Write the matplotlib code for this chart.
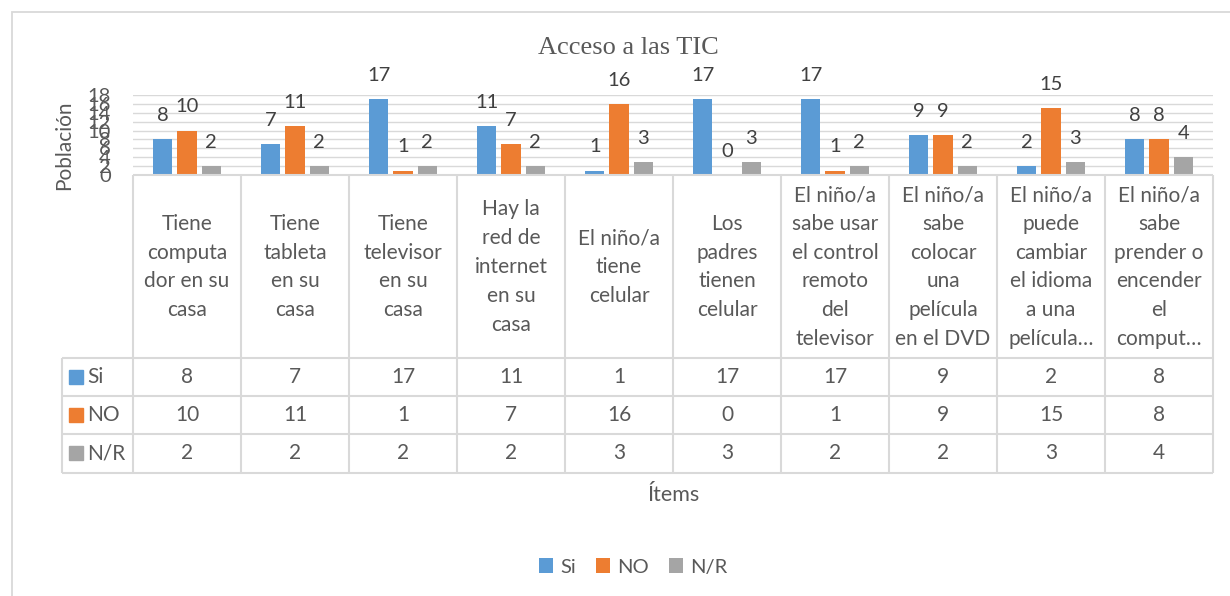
import matplotlib
matplotlib.use("Agg")
import matplotlib.pyplot as plt
from matplotlib.patches import Rectangle, Patch
import numpy as np

categories = [
    "Tiene\ncomputa\ndor en su\ncasa",
    "Tiene\ntableta\nen su\ncasa",
    "Tiene\ntelevisor\nen su\ncasa",
    "Hay la\nred de\ninternet\nen su\ncasa",
    "El niño/a\ntiene\ncelular",
    "Los\npadres\ntienen\ncelular",
    "El niño/a\nsabe usar\nel control\nremoto\ndel\ntelevisor",
    "El niño/a\nsabe\ncolocar\nuna\npelícula\nen el DVD",
    "El niño/a\npuede\ncambiar\nel idioma\na una\npelícula…",
    "El niño/a\nsabe\nprender o\nencender\nel\ncomput…",
]
series_names = ["Si", "NO", "N/R"]
si = [8, 7, 17, 11, 1, 17, 17, 9, 2, 8]
no = [10, 11, 1, 7, 16, 0, 1, 9, 15, 8]
nr = [2, 2, 2, 2, 3, 3, 2, 2, 3, 4]
colors = ["#5B9BD5", "#ED7D31", "#A5A5A5"]
yticks = list(range(0, 20, 2))
title = "Acceso a las TIC"
ylabel = "Población"
xlabel = "Ítems"

plt.rcParams['font.family'] = ['Lato', 'DejaVu Sans']
TXT = '#595959'
GRID = '#D9D9D9'

W, H = 1230, 596
fig = plt.figure(figsize=(W / 100, H / 100), dpi=100)


def fx(px):
    return px / W


def fy(py):
    return 1 - py / H


# chart border
fig.add_artist(Rectangle((fx(12), -0.1), 1.0, fy(12) + 0.1, transform=fig.transFigure,
                         fill=False, edgecolor=GRID, lw=1.3))

L, R = 133, 1213
TOP, BOT = 95, 175
ax = fig.add_axes([fx(L), fy(BOT), fx(R) - fx(L), fy(TOP) - fy(BOT)])
ax.set_xlim(-0.5, 9.5)
ax.set_ylim(0, 18)
x = np.arange(len(categories))
bw = 0.18
off = 0.225
series = [si, no, nr]
for k, (vals, c) in enumerate(zip(series, colors)):
    pos = x + (k - 1) * off
    ax.bar(pos, vals, bw, color=c, zorder=3)
    for p, v in zip(pos, vals):
        ax.annotate(str(v), (p, v), xytext=(0, 13), textcoords='offset points',
                    ha='center', va='baseline', fontsize=14.5, color='#404040',
                    annotation_clip=False)
ax.set_yticks(yticks)
ax.yaxis.grid(True, color=GRID, lw=1)
ax.set_axisbelow(True)
for s in ax.spines.values():
    s.set_visible(False)
ax.set_xticks([])
ax.tick_params(axis='y', length=0, labelsize=14.5, colors=TXT, pad=16)

# data table
TL, TB = 62, 473
colw = (R - L) / 10
xleft = -0.5 - (L - TL) / colw
tax = fig.add_axes([fx(TL), fy(TB), fx(R) - fx(TL), fy(BOT) - fy(TB)])
tax.set_xlim(xleft, 9.5)
tax.set_ylim(TB, BOT)
tax.axis('off')
lc = dict(color=GRID, lw=1.5, clip_on=False)
tax.hlines([BOT], -0.5, 9.5, **lc)
tax.hlines([358, 396, 434, TB], xleft, 9.5, **lc)
tax.vlines(np.arange(-0.5, 10.0, 1.0), BOT, TB, **lc)
tax.vlines([xleft], 358, TB, **lc)

for i, cat in enumerate(categories):
    tax.text(i, 267, cat, ha='center', va='center', fontsize=15, color=TXT,
             linespacing=1.55)

row_centers = [377, 415, 453]
for name, vals, c, rc in zip(series_names, series, colors, row_centers):
    tax.plot([xleft + (76 - TL) / colw], [rc], marker='s', ms=10, color=c,
             clip_on=False, ls='none')
    tax.text(xleft + (87 - TL) / colw, rc, name, ha='left', va='center',
             fontsize=15, color=TXT)
    for i, v in enumerate(vals):
        tax.text(i, rc, str(v), ha='center', va='center', fontsize=15, color=TXT)

fig.text(fx(628), fy(48), title, ha='center', va='center', fontsize=19,
         family=['Liberation Serif'], color=TXT)
fig.text(fx(64), fy(145), ylabel, ha='center', va='center', rotation=90,
         fontsize=15, color=TXT)
fig.text(fx(674), fy(495), xlabel, ha='center', va='center', fontsize=15.5, color=TXT)

handles = [Patch(facecolor=c, edgecolor='none') for c in colors]
fig.legend(handles, series_names, loc='center', bbox_to_anchor=(fx(633), fy(567)),
           ncol=3, frameon=False, fontsize=14.5, labelcolor=TXT,
           handlelength=0.7, handleheight=0.7, handletextpad=0.35,
           columnspacing=1.0)

fig.savefig('out.png', dpi=100)
